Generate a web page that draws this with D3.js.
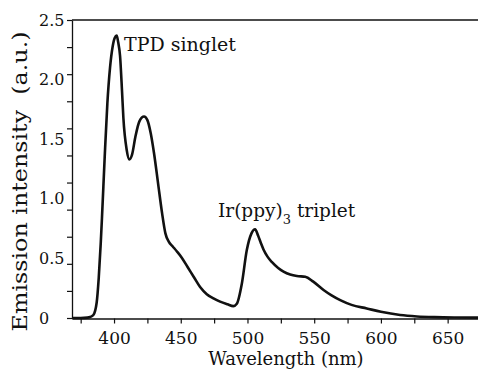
<!DOCTYPE html>
<html>
<head>
<meta charset="utf-8">
<script src="https://cdn.jsdelivr.net/npm/d3@7"></script>
<style>
  body { margin: 0; background: #fff; }
  svg { display: block; }
</style>
</head>
<body>
<div id="chart"></div>
<script>
    // spectrum
    wavelength = [368.5, 375, 380, 382, 384.5, 387, 388.5, 390, 391, 393, 395, 397, 399, 400.5, 402, 403, 404.5, 406, 407, 409.5, 411.5,
        413.5, 416, 419, 422.5, 425, 427.5, 430, 433, 436, 438.5, 441, 444, 447, 450.5, 455, 460, 464.5, 469.5, 474.5, 479.5,
        485, 489.4, 492, 495.8, 499.5, 503, 505.7, 508, 510, 512, 515, 518.2, 523, 527, 532, 537, 543.3, 549.3, 557, 563, 569.5, 578,
        589.4, 600, 614.4, 627, 640, 655, 673.5]
    intensity = [0, 0, 0.003, 0.008, 0.025, 0.13, 0.33, 0.62, 0.85, 1.35, 1.8, 2.1, 2.28, 2.35, 2.37, 2.32, 2.2, 1.9, 1.68, 1.41, 1.33,
        1.37, 1.52, 1.65, 1.69, 1.66, 1.55, 1.38, 1.13, 0.88, 0.71, 0.64, 0.6, 0.56, 0.51, 0.43, 0.34, 0.26, 0.2, 0.165, 0.137,
        0.115, 0.1, 0.12, 0.29, 0.57, 0.71, 0.744, 0.69, 0.63, 0.575, 0.515, 0.47, 0.42, 0.39, 0.365, 0.352, 0.346, 0.305, 0.235, 0.19, 0.15, 0.11,
        0.08, 0.052, 0.025, 0.013, 0.007, 0.004, 0.003]

    xTicks = [375, 400, 425, 450, 475, 500, 525, 550, 575, 600, 625, 650]
    xLabels = [400, 450, 500, 550, 600, 650]
    yLabels = [0, 0.5, 1.0, 1.5, 2.0, 2.5]
    yTicks = d3.range(12).map(i => 2.5 * i / 11)   // tick marks as drawn, not aligned to labels

    canvas = ({width: 478, height: 372})
    margin = ({top: 20, right: 0, bottom: 53, left: 72})

    serif = "'DejaVu Serif', serif"

    x = d3.scaleLinear()
        .domain([368.5, 673.5])
        .range([margin.left, canvas.width + 1])

    y = d3.scaleLinear()
        .domain([0, 2.5])
        .range([canvas.height - margin.bottom - 1, margin.top])

    var svg = d3.select("#chart").append("svg")
        .attr("width", canvas.width)
        .attr("height", canvas.height)

    // top frame line
    svg.append("line")
        .attr("x1", margin.left).attr("x2", canvas.width)
        .attr("y1", y(2.5)).attr("y2", y(2.5))
        .attr("stroke", "#111").attr("stroke-width", 1.3)

    // x axis
    xAxis = svg.append("g")
        .attr("transform", `translate(0,${y(0) + 0.5})`)
        .call(d3.axisBottom(x).tickValues(xTicks).tickSize(5).tickPadding(8).tickSizeOuter(0)
            .tickFormat(d => xLabels.includes(d) ? d : ""))
    xAxis.select(".domain").attr("stroke", "#111").attr("stroke-width", 1.3)
    xAxis.selectAll(".tick line").attr("stroke", "#111").attr("stroke-width", 1.2)
    xAxis.selectAll("text").attr("font-family", serif).attr("font-size", 17).attr("fill", "#111")

    // y axis: tick marks
    yAxis = svg.append("g")
        .attr("transform", `translate(${margin.left},0)`)
        .call(d3.axisLeft(y).tickValues(yTicks).tickSize(5).tickSizeOuter(0).tickFormat(""))
    yAxis.select(".domain").attr("stroke", "#111").attr("stroke-width", 1.3)
    yAxis.selectAll(".tick line").attr("stroke", "#111").attr("stroke-width", 1.2)

    // y axis: labels
    yLab = svg.append("g")
        .attr("transform", `translate(${margin.left},0)`)
        .call(d3.axisLeft(y).tickValues(yLabels).tickSize(0)
            .tickFormat(d => d === 0 ? "0" : d.toFixed(1)))
    yLab.select(".domain").remove()
    yLab.selectAll("text")
        .attr("text-anchor", "start").attr("x", -33)
        .attr("font-family", serif).attr("font-size", 16).attr("fill", "#111")

    // spectrum
    line = d3.line()
        .x(d => x(d[0]))
        .y(d => y(d[1]))
        .curve(d3.curveMonotoneX)

    svg.append("path")
        .attr("fill", "none")
        .attr("stroke", "#111")
        .attr("stroke-width", 2.6)
        .attr("stroke-linejoin", "round")
        .attr("d", line(d3.zip(wavelength, intensity)))

    // annotations
    svg.append("text")
        .attr("x", 124).attr("y", 51)
        .attr("font-family", serif).attr("font-size", 19).attr("fill", "#111")
        .text("TPD singlet")

    trip = svg.append("text")
        .attr("x", 218).attr("y", 217)
        .attr("font-family", serif).attr("font-size", 18.5).attr("fill", "#111")
    trip.append("tspan").text("Ir(ppy)")
    trip.append("tspan").attr("dy", 7).attr("font-size", 13).text("3")
    trip.append("tspan").attr("dy", -7).text(" triplet")

    // axis titles
    svg.append("text")
        .attr("x", 286).attr("y", 365)
        .attr("text-anchor", "middle")
        .attr("font-family", serif).attr("font-size", 18).attr("fill", "#111")
        .text("Wavelength (nm)")

    svg.append("text")
        .attr("transform", "translate(27,181.5) rotate(-90)")
        .attr("text-anchor", "middle")
        .attr("font-family", serif).attr("font-size", 20).attr("fill", "#111")
        .attr("textLength", 300).attr("lengthAdjust", "spacingAndGlyphs")
        .style("white-space", "pre")
        .text("Emission intensity  (a.u.)")
</script>
</body>
</html>
